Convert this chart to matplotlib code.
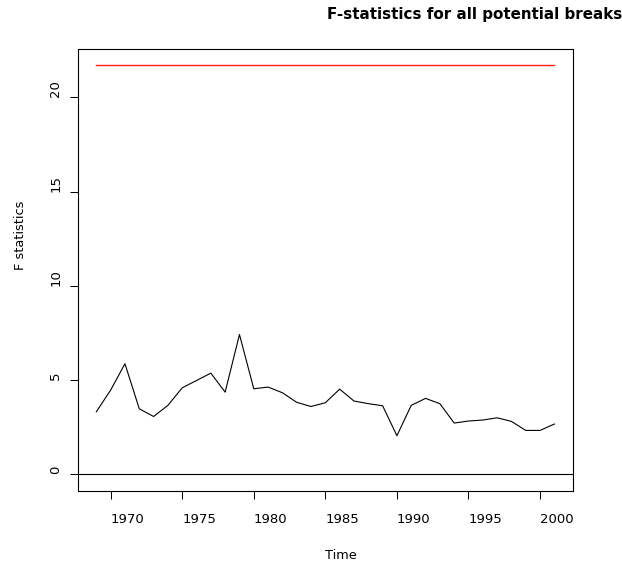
import matplotlib
matplotlib.use("Agg")
import matplotlib.pyplot as plt
import numpy as np

years = list(range(1969, 2002))
fstats = [3.32, 4.47, 5.87, 3.48, 3.07, 3.66, 4.59, 4.98, 5.37, 4.36,
          7.42, 4.54, 4.63, 4.33, 3.82, 3.60, 3.80, 4.52, 3.89, 3.75,
          3.64, 2.05, 3.66, 4.03, 3.75, 2.72, 2.83, 2.88, 3.00, 2.81,
          2.33, 2.33, 2.67]
boundary = 21.70
xticks = [1970, 1975, 1980, 1985, 1990, 1995, 2000]
yticks = [0, 5, 10, 15, 20]

plt.rcParams['font.family'] = ['DejaVu Sans']

W, H = 622, 570
fig = plt.figure(figsize=(W / 100, H / 100), dpi=100)
L, R, T, B = 78, 572.7, 49, 490.7
ax = fig.add_axes([L / W, 1 - B / H, (R - L) / W, (B - T) / H])

ax.plot(years, fstats, color='black', lw=0.8)
ax.plot([years[0], years[-1]], [boundary, boundary], color='#ff2020', lw=1.0)
ax.axhline(0, color='black', lw=0.8)

xr = years[-1] - years[0]
ax.set_xlim(years[0] - 0.04 * xr, years[-1] + 0.04 * xr)
ymax = max(max(fstats), boundary)
ax.set_ylim(-0.04 * ymax, ymax * 1.04)

for s in ax.spines.values():
    s.set_linewidth(0.8)

ax.set_xticks(xticks)
ax.set_xticklabels([str(t) for t in xticks], ha='left')
ax.set_yticks(yticks)
ax.set_yticklabels([str(t) for t in yticks], rotation=90, va='bottom', ha='right')
ax.tick_params(axis='both', direction='out', length=5.8, width=0.75, labelsize=9.5)
ax.tick_params(axis='x', pad=10.2)
ax.tick_params(axis='y', pad=5.5)

ax.set_xlabel('Time', fontsize=9.3, ha='left', va='baseline')
ax.xaxis.set_label_coords(0.5, -(559.3 - B) / (B - T))
ax.set_ylabel('F statistics', fontsize=9.3, rotation=90)
ax.yaxis.label.set_rotation_mode('anchor')
ax.yaxis.label.set_ha('left')
ax.yaxis.label.set_va('bottom')
ax.yaxis.set_label_coords((27 - L) / (R - L), 0.5)

fig.text(327 / W, 1 - 19.3 / H, 'F-statistics for all potential breaks',
         ha='left', va='baseline', fontsize=10.9, fontweight='bold')

fig.savefig('out.png', dpi=100)
